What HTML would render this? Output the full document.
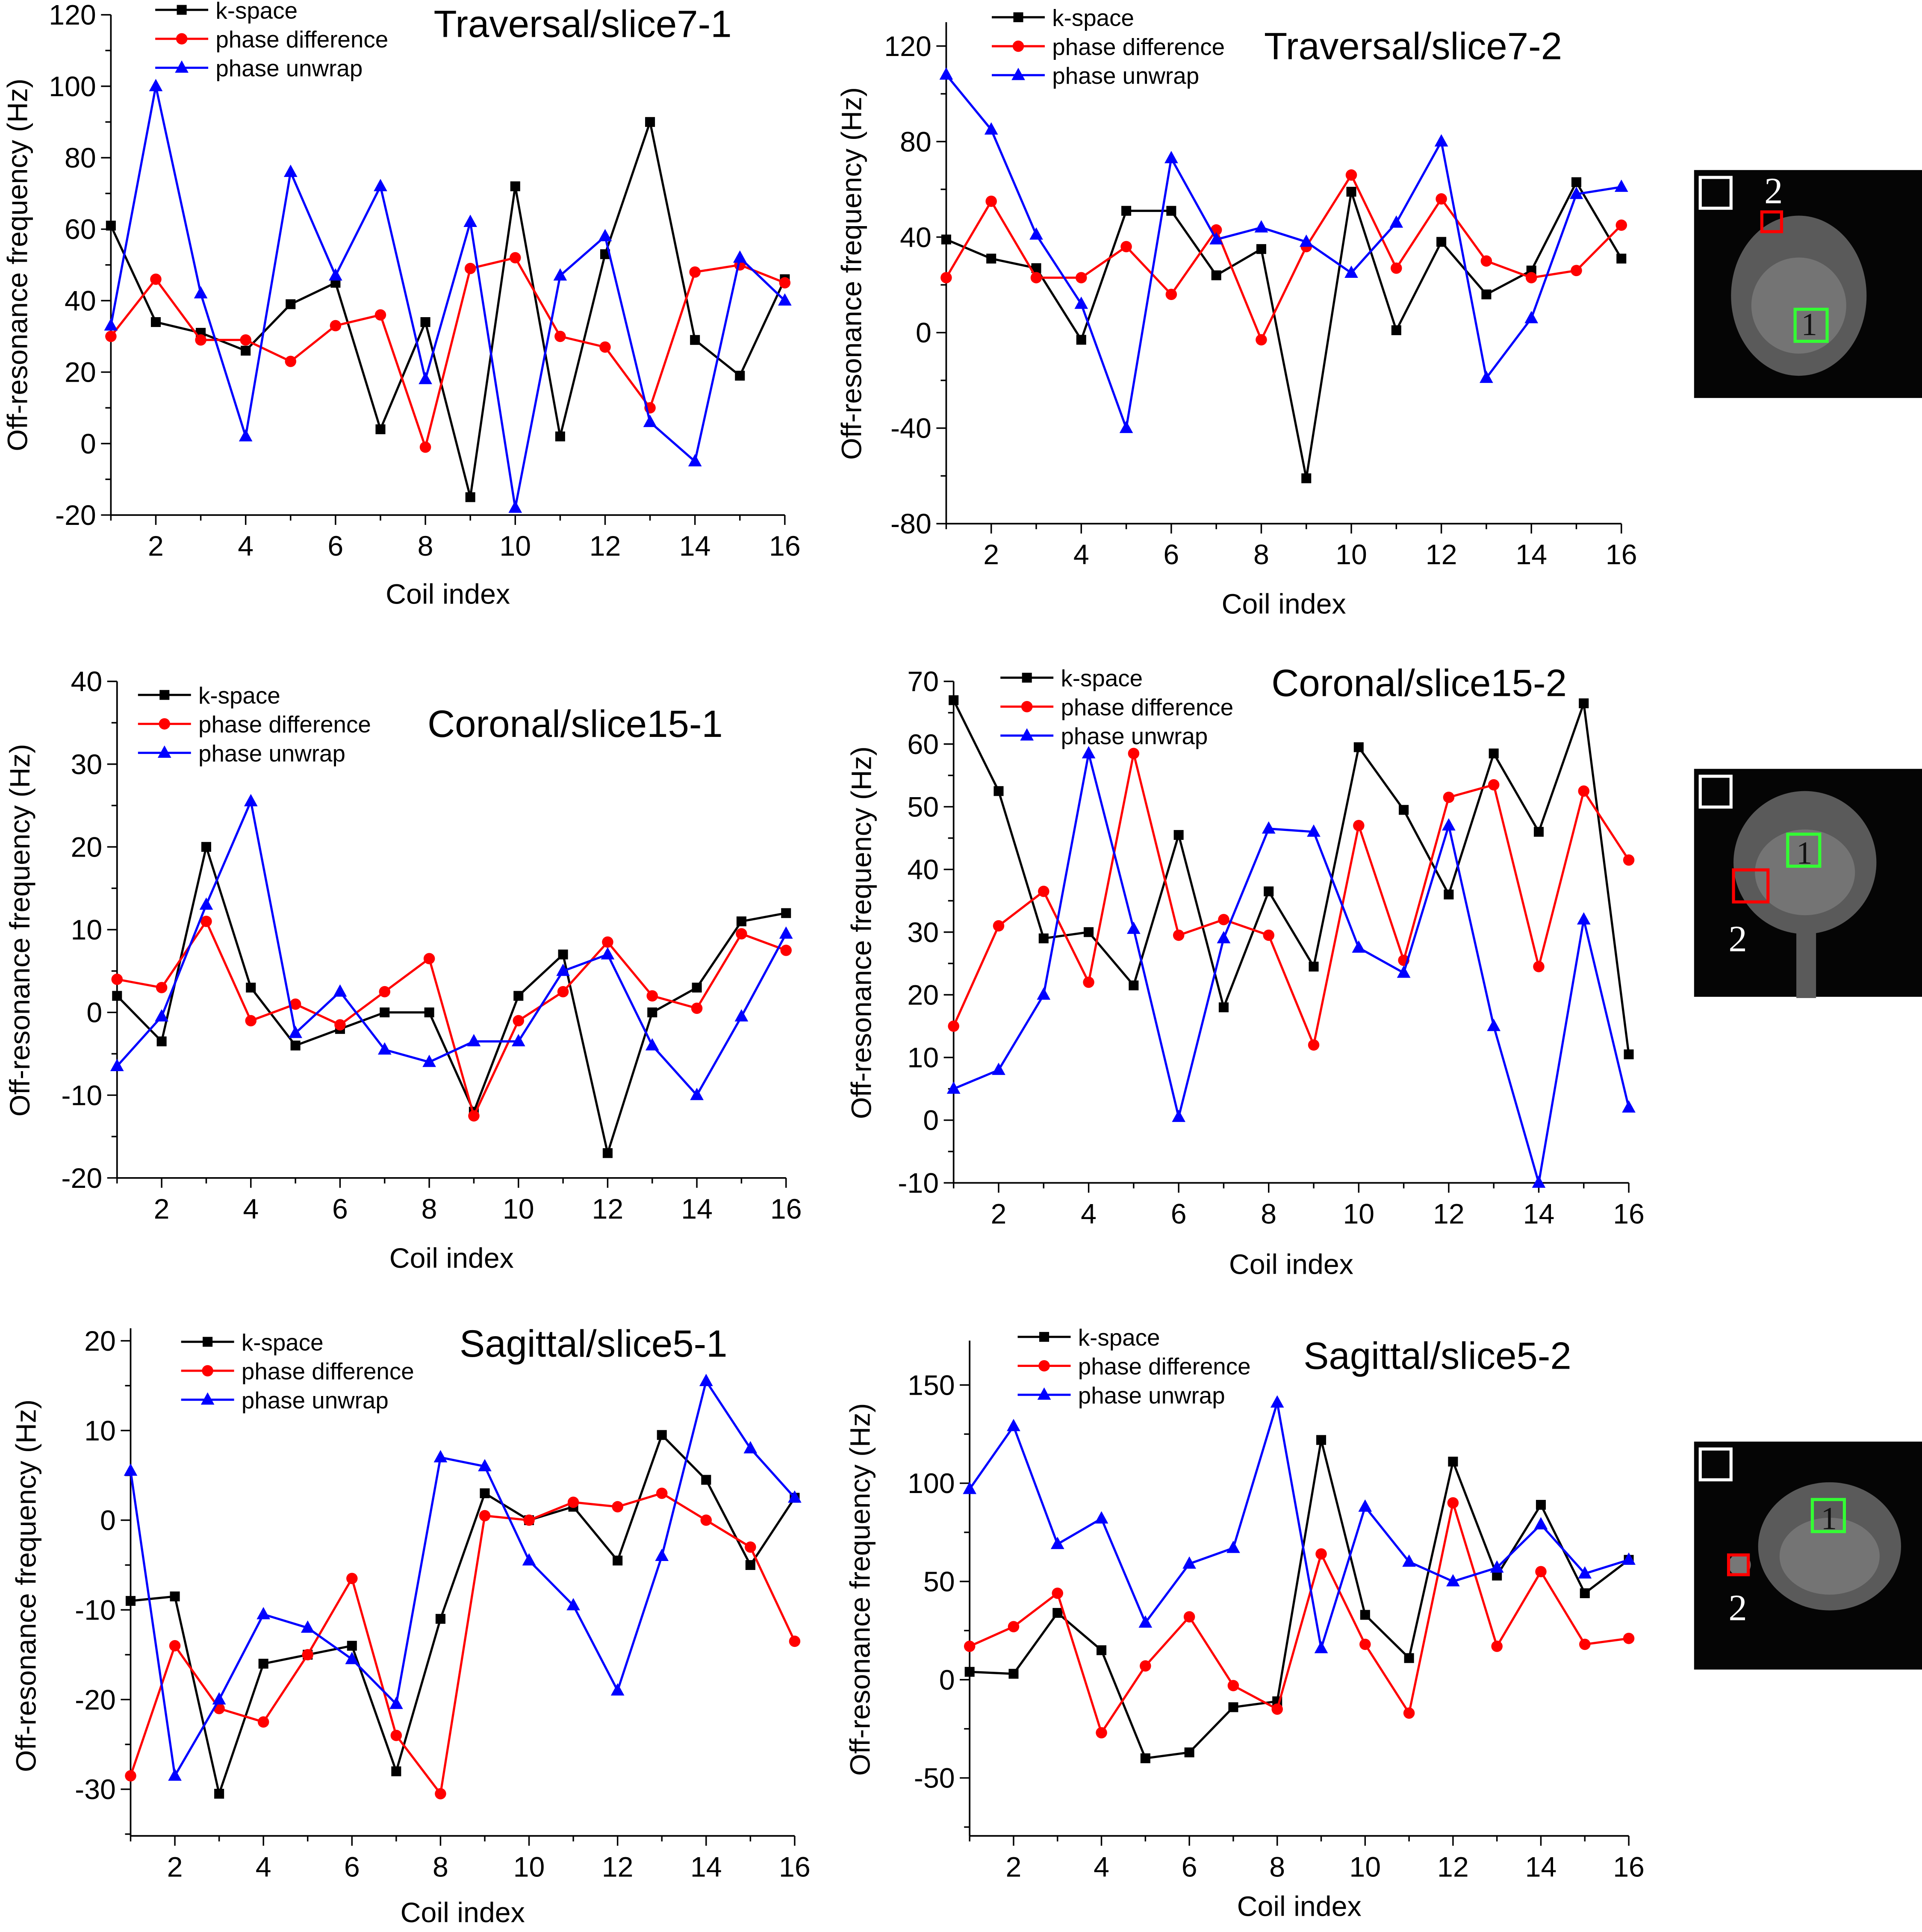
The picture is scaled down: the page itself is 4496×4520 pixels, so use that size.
<!DOCTYPE html>
<html><head><meta charset="utf-8"><style>
html,body{margin:0;padding:0;background:#fff}
svg{display:block}
text{font-family:"Liberation Sans",Arial,sans-serif;fill:#000}
</style></head><body>
<svg id="fig" width="4496" height="4520" viewBox="0 0 1560 1568" preserveAspectRatio="none" xmlns="http://www.w3.org/2000/svg"></svg>
<script>
const coils=[1,2,3,4,5,6,7,8,9,10,11,12,13,14,15,16];
const seriesNames=["k-space","phase difference","phase unwrap"];
const t1K=[61,34,31,26,39,45,4,34,-15,72,2,53,90,29,19,46];
const t1PD=[30,46,29,29,23,33,36,-1,49,52,30,27,10,48,50,45];
const t1UW=[33,100,42,2,76,47,72,18,62,-18,47,58,6,-5,52,40];
const t2K=[39,31,27,-3,51,51,24,35,-61,59,1,38,16,26,63,31];
const t2PD=[23,55,23,23,36,16,43,-3,36,66,27,56,30,23,26,45];
const t2UW=[108,85,41,12,-40,73,39,44,38,25,46,80,-19,6,58,61];
const c1K=[2,-3.5,20,3,-4,-2,0,0,-12,2,7,-17,0,3,11,12];
const c1PD=[4,3,11,-1,1,-1.5,2.5,6.5,-12.5,-1,2.5,8.5,2,0.5,9.5,7.5];
const c1UW=[-6.5,-0.5,13,25.5,-2.5,2.5,-4.5,-6,-3.5,-3.5,5,7,-4,-10,-0.5,9.5];
const c2K=[67,52.5,29,30,21.5,45.5,18,36.5,24.5,59.5,49.5,36,58.5,46,66.5,10.5];
const c2PD=[15,31,36.5,22,58.5,29.5,32,29.5,12,47,25.5,51.5,53.5,24.5,52.5,41.5];
const c2UW=[5,8,20,58.5,30.5,0.5,29,46.5,46,27.5,23.5,47,15,-10,32,2];
const s1K=[-9,-8.5,-30.5,-16,-15,-14,-28,-11,3,0,1.5,-4.5,9.5,4.5,-5,2.5];
const s1PD=[-28.5,-14,-21,-22.5,-15,-6.5,-24,-30.5,0.5,0,2,1.5,3,0,-3,-13.5];
const s1UW=[5.5,-28.5,-20,-10.5,-12,-15.5,-20.5,7,6,-4.5,-9.5,-19,-4,15.5,8,2.5];
const s2K=[4,3,34,15,-40,-37,-14,-11,122,33,11,111,53,89,44,61];
const s2PD=[17,27,44,-27,7,32,-3,-15,64,18,-17,90,17,55,18,21];
const s2UW=[97,129,69,82,29,59,67,141,16,88,60,50,57,79,54,61];
const xTicks=[2,4,6,8,10,12,14,16];
const t1YTicks=[-20,0,20,40,60,80,100,120];
const t2YTicks=[-80,-40,0,40,80,120];
const c1YTicks=[-20,-10,0,10,20,30,40];
const c2YTicks=[-10,0,10,20,30,40,50,60,70];
const s1YTicks=[-30,-20,-10,0,10,20];
const s2YTicks=[-50,0,50,100,150];

const NS="http://www.w3.org/2000/svg";
const svg=document.getElementById('fig');
function mk(tag,attrs,parent,txt){const e=document.createElementNS(NS,tag);for(const k in attrs)e.setAttribute(k,attrs[k]);if(txt!==undefined)e.textContent=txt;(parent||svg).appendChild(e);return e;}
const colors=["#000","#f00","#00f"];
function marker(g,type,x,y,c){
  let m;
  if(type===0){m=mk('rect',{x:x-4,y:y-4,width:8,height:8,fill:c},g);}
  else if(type===1){m=mk('circle',{cx:x,cy:y,r:4.6,fill:c},g);}
  else {m=mk('polygon',{points:`${x},${y-6} ${x-5.5},${y+4} ${x+5.5},${y+4}`,fill:c},g);}
  
  
}
const panels=[
 {id:'traversal-7-1',title:'Traversal/slice7-1',L:90,R:637,T:12,B:418,ymin:-20,ymax:120,yt:t1YTicks,data:[t1K,t1PD,t1UW],lg:[126,8],tt:[352,30],yl:[22,215],xl:490},
 {id:'traversal-7-2',title:'Traversal/slice7-2',L:768,R:1316,T:18,B:425,ymin:-80,ymax:130,yt:t2YTicks,data:[t2K,t2PD,t2UW],lg:[805,14],tt:[1026,48],yl:[699,222],xl:498},
 {id:'coronal-15-1',title:'Coronal/slice15-1',L:95,R:638,T:553,B:956,ymin:-20,ymax:40,yt:c1YTicks,data:[c1K,c1PD,c1UW],lg:[112,564],tt:[347,598],yl:[24,755],xl:1029},
 {id:'coronal-15-2',title:'Coronal/slice15-2',L:774,R:1322,T:553,B:960,ymin:-10,ymax:70,yt:c2YTicks,data:[c2K,c2PD,c2UW],lg:[812,550],tt:[1032,565],yl:[707,757],xl:1034},
 {id:'sagittal-5-1',title:'Sagittal/slice5-1',L:106,R:645,T:1078,B:1490,ymin:-35.2,ymax:21.4,yt:s1YTicks,data:[s1K,s1PD,s1UW],lg:[147,1089],tt:[373,1101],yl:[29,1287],xl:1560},
 {id:'sagittal-5-2',title:'Sagittal/slice5-2',L:787,R:1322,T:1088,B:1490,ymin:-79.5,ymax:172.6,yt:s2YTicks,data:[s2K,s2PD,s2UW],lg:[826,1085],tt:[1058,1111],yl:[706,1290],xl:1555}
];
panels.forEach(p=>{
  const g=mk('g',{});
  
  
  const xs=v=>p.L+(v-1)/15*(p.R-p.L);
  const ys=v=>p.B-(v-p.ymin)/(p.ymax-p.ymin)*(p.B-p.T);
  const ya=mk('line',{x1:p.L,y1:p.T,x2:p.L,y2:p.B,stroke:'#000','stroke-width':1.3},g);
  
  const xa=mk('line',{x1:p.L,y1:p.B,x2:p.R,y2:p.B,stroke:'#000','stroke-width':1.3},g);
  
  coils.forEach(c=>{
    const major=xTicks.includes(c);
    mk('line',{x1:xs(c),y1:p.B,x2:xs(c),y2:p.B+(major?8:4.5),stroke:'#000','stroke-width':1.2},g);
    if(major){const t=mk('text',{x:xs(c),y:p.B+33,'font-size':23,'text-anchor':'middle'},g,String(c));
      }
  });
  const step=p.yt[1]-p.yt[0];
  for(let v=p.yt[0]-step;v<=p.yt[p.yt.length-1]+step;v+=step/2){
    if(v<p.ymin-1e-6||v>p.ymax+1e-6)continue;
    const major=p.yt.includes(v);
    mk('line',{x1:p.L,y1:ys(v),x2:p.L-(major?8:4.5),y2:ys(v),stroke:'#000','stroke-width':1.2},g);
  }
  p.yt.forEach(v=>{const t=mk('text',{x:p.L-12,y:ys(v)+8,'font-size':23,'text-anchor':'end'},g,String(v));
    });
  p.data.forEach((arr,si)=>{
    const pts=arr.map((v,i)=>xs(coils[i])+','+ys(v)).join(' ');
    const pl=mk('polyline',{points:pts,fill:'none',stroke:colors[si],'stroke-width':1.8},g);
    
    
    arr.forEach((v,i)=>marker(g,si,xs(coils[i]),ys(v),colors[si]));
  });
  seriesNames.forEach((n,si)=>{
    const y=p.lg[1]+si*23.5, x=p.lg[0];
    const lg=mk('g',{},g);
    
    
    mk('line',{x1:x,y1:y,x2:x+43,y2:y,stroke:colors[si],'stroke-width':1.8},lg);
    marker(lg,si,x+21.5,y,colors[si]);
    mk('text',{x:x+49,y:y+7,'font-size':19},lg,n);
  });
  const tt=mk('text',{x:p.tt[0],y:p.tt[1],'font-size':30.8},g,p.title);
  
  const yl=mk('text',{x:p.yl[0],y:p.yl[1],'font-size':23,'text-anchor':'middle',transform:`rotate(-90 ${p.yl[0]} ${p.yl[1]})`},g,'Off-resonance frequency (Hz)');
  
  const xl=mk('text',{x:(p.L+p.R)/2,y:p.xl,'font-size':23,'text-anchor':'middle'},g,'Coil index');
  
});
const insets=[
 {y:138,cx:1460,cy:240,rx:55,ry:65,red:[1430,172,16,16],green:[1457,251,26,26],l2:[1432,165],l1:[1462,272]},
 {y:624,cx:1465,cy:700,rx:58,ry:58,red:[1407,706,28,26],green:[1451,677,26,26],l2:[1403,772],l1:[1458,701]},
 {y:1170,cx:1485,cy:1255,rx:58,ry:52,red:[1403,1262,16,16],green:[1471,1217,26,26],l2:[1403,1315],l1:[1478,1241]}
];
insets.forEach((s,i)=>{
  const g=mk('g',{});
  
  
  mk('rect',{x:1375,y:s.y,width:185,height:185,fill:'#050505'},g);
  mk('ellipse',{cx:s.cx,cy:s.cy,rx:s.rx,ry:s.ry,fill:'#5a5a5a'},g);
  mk('ellipse',{cx:s.cx,cy:s.cy+8,rx:s.rx*0.7,ry:s.ry*0.6,fill:'#7a7a7a',opacity:0.8},g);
  if(i===1)mk('rect',{x:1458,y:745,width:16,height:65,fill:'#5a5a5a'},g);
  if(i===2)mk('circle',{cx:1412,cy:1270,r:9,fill:'#777'},g);
  mk('rect',{x:1380,y:s.y+6,width:25,height:25,fill:'none',stroke:'#fff','stroke-width':2.5},g);
  mk('rect',{x:s.red[0],y:s.red[1],width:s.red[2],height:s.red[3],fill:'none',stroke:'#f00','stroke-width':2.5},g);
  mk('rect',{x:s.green[0],y:s.green[1],width:s.green[2],height:s.green[3],fill:'none',stroke:'#3f3','stroke-width':2.5},g);
  mk('text',{x:s.l2[0],y:s.l2[1],'font-size':30,style:'fill:#fff;font-family:"Liberation Serif",serif'},g,'2');
  mk('text',{x:s.l1[0],y:s.l1[1],'font-size':26,style:'fill:#111;font-family:"Liberation Serif",serif'},g,'1');
});
</script>
</body></html>
